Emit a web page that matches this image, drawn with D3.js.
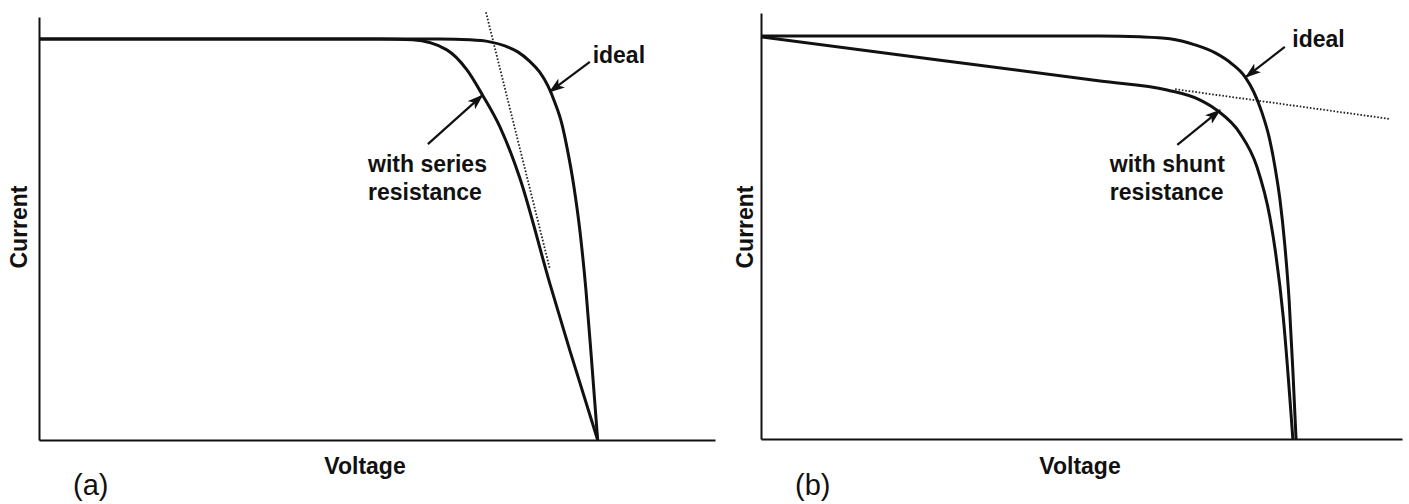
<!DOCTYPE html>
<html>
<head>
<meta charset="utf-8">
<title>I-V curves</title>
<script src="https://cdn.jsdelivr.net/npm/d3@7/dist/d3.min.js"></script>
<style>
  body { margin: 0; background: #fff; }
  svg { display: block; }
  text { font-family: "Liberation Sans", Arial, Helvetica, sans-serif; fill: #111; }
</style>
</head>
<body>
<svg id="chart" width="1409" height="504"></svg>
<script>
// voltage and current are normalised: V = 1 at open circuit, I = 1 at short circuit
// panel (a)
var idealA_V  = [0, 0.717, 0.771, 0.807, 0.834, 0.857, 0.878, 0.896, 0.911, 0.923, 0.936, 0.946, 0.957, 0.968, 0.979, 0.989, 1.0];
var idealA_I  = [1, 1.0, 0.998, 0.993, 0.983, 0.968, 0.945, 0.918, 0.883, 0.843, 0.788, 0.723, 0.636, 0.524, 0.374, 0.200, 0];
var seriesA_V = [0, 0.610, 0.669, 0.730, 0.766, 0.794, 0.825, 0.860, 0.914, 0.950, 1.0];
var seriesA_I = [1, 1.0, 0.998, 0.973, 0.923, 0.860, 0.781, 0.656, 0.392, 0.224, 0];
var tangentA_V = [0.800, 0.914];
var tangentA_I = [1.067, 0.429];

// panel (b)
var idealB_V = [0, 0.634, 0.708, 0.764, 0.811, 0.849, 0.880, 0.905, 0.921, 0.936, 0.950, 0.961, 0.970, 0.979, 0.987, 0.994, 1.0];
var idealB_I = [1, 1.0, 0.998, 0.993, 0.978, 0.958, 0.931, 0.898, 0.861, 0.811, 0.747, 0.672, 0.593, 0.481, 0.345, 0.171, 0];
var shuntB_V = [0, 0.335, 0.634, 0.759, 0.821, 0.852, 0.895, 0.927, 0.951, 0.961, 0.976, 0.994];
var shuntB_I = [0.998, 0.940, 0.888, 0.866, 0.841, 0.816, 0.759, 0.675, 0.551, 0.469, 0.303, 0];
var tangentB_V = [0.774, 1.176];
var tangentB_I = [0.868, 0.794];

// axis extents (normalised units)
var vMaxA = 1.21, iMaxA = 1.055;
var vMaxB = 1.198, iMaxB = 1.057;

// annotations: label lines, label anchor, arrow tail, arrow tip
var notesA = [
  {lines: ["ideal"], tx: 0.991, ty: 0.940, from: [0.986, 0.943], to: [0.914, 0.868]},
  {lines: ["with series", "resistance"], tx: 0.589, ty: 0.668, from: [0.696, 0.738], to: [0.794, 0.860]}
];
var notesB = [
  {lines: ["ideal"], tx: 0.993, ty: 0.973, from: [0.979, 0.973], to: [0.906, 0.898]},
  {lines: ["with shunt", "resistance"], tx: 0.652, ty: 0.663, from: [0.778, 0.730], to: [0.858, 0.816]}
];

var svg = d3.select("#chart");

svg.append("defs").append("marker")
  .attr("id", "head")
  .attr("viewBox", "0 0 16 11")
  .attr("refX", 15).attr("refY", 5.5)
  .attr("markerWidth", 16).attr("markerHeight", 11)
  .attr("markerUnits", "userSpaceOnUse")
  .attr("orient", "auto")
  .append("path")
  .attr("d", "M0,0 L16,5.5 L0,11 L4,5.5 Z")
  .attr("fill", "#111");

function zipPts(vs, is) {
  return vs.map(function(v, k) { return [v, is[k]]; });
}

function drawPanel(p) {
  var x = d3.scaleLinear().domain([0, p.vMax]).range([p.left, p.right]);
  var y = d3.scaleLinear().domain([0, p.iMax]).range([p.bottom, p.top]);
  var g = svg.append("g");

  // axes: domain line only, no ticks
  g.append("g")
    .attr("transform", "translate(0," + p.bottom + ")")
    .call(d3.axisBottom(x).ticks(0).tickSizeOuter(0))
    .call(function(a) { a.select(".domain").attr("stroke", "#111").attr("stroke-width", 2); });
  g.append("g")
    .attr("transform", "translate(" + p.left + ",0)")
    .call(d3.axisLeft(y).ticks(0).tickSizeOuter(0))
    .call(function(a) { a.select(".domain").attr("stroke", "#111").attr("stroke-width", 2); });

  var line = d3.line()
    .x(function(d) { return x(d[0]); })
    .y(function(d) { return y(d[1]); })
    .curve(d3.curveMonotoneX);

  // dotted tangent
  g.append("path")
    .datum(p.tangent)
    .attr("d", d3.line().x(function(d) { return x(d[0]); }).y(function(d) { return y(d[1]); }))
    .attr("fill", "none")
    .attr("stroke", "#222")
    .attr("stroke-width", 1.8)
    .attr("stroke-dasharray", "1.6 1.8");

  g.selectAll("path.curve")
    .data(p.curves)
    .enter().append("path")
    .attr("class", "curve")
    .attr("d", line)
    .attr("fill", "none")
    .attr("stroke", "#111")
    .attr("stroke-width", 3)
    .attr("stroke-linejoin", "round");

  // annotations
  p.notes.forEach(function(n) {
    g.append("line")
      .attr("x1", x(n.from[0])).attr("y1", y(n.from[1]))
      .attr("x2", x(n.to[0])).attr("y2", y(n.to[1]))
      .attr("stroke", "#111")
      .attr("stroke-width", 2.2)
      .attr("marker-end", "url(#head)");
    var t = g.append("text")
      .attr("x", x(n.tx)).attr("y", y(n.ty))
      .attr("font-size", 23)
      .attr("font-weight", "bold");
    n.lines.forEach(function(s, k) {
      t.append("tspan").attr("x", x(n.tx)).attr("dy", k === 0 ? 0 : 28).text(s);
    });
  });

  // axis titles and panel letter
  g.append("text")
    .attr("transform", "translate(" + p.yLabelX + "," + p.yLabelY + ") rotate(-90)")
    .attr("text-anchor", "middle")
    .attr("font-size", 23)
    .attr("font-weight", "bold")
    .text("Current");
  g.append("text")
    .attr("x", p.xLabelX).attr("y", 474)
    .attr("text-anchor", "middle")
    .attr("font-size", 23)
    .attr("font-weight", "bold")
    .text("Voltage");
  g.append("text")
    .attr("x", p.left + 34).attr("y", 495)
    .attr("font-size", 29)
    .text(p.letter);
}

drawPanel({
  left: 39, right: 715, top: 17, bottom: 440,
  vMax: vMaxA, iMax: iMaxA,
  curves: [zipPts(idealA_V, idealA_I), zipPts(seriesA_V, seriesA_I)],
  tangent: zipPts(tangentA_V, tangentA_I),
  notes: notesA,
  yLabelX: 27, yLabelY: 227, xLabelX: 365, letter: "(a)"
});

drawPanel({
  left: 761, right: 1402, top: 13, bottom: 439,
  vMax: vMaxB, iMax: iMaxB,
  curves: [zipPts(idealB_V, idealB_I), zipPts(shuntB_V, shuntB_I)],
  tangent: zipPts(tangentB_V, tangentB_I),
  notes: notesB,
  yLabelX: 753, yLabelY: 227, xLabelX: 1080, letter: "(b)"
});
</script>
</body>
</html>
